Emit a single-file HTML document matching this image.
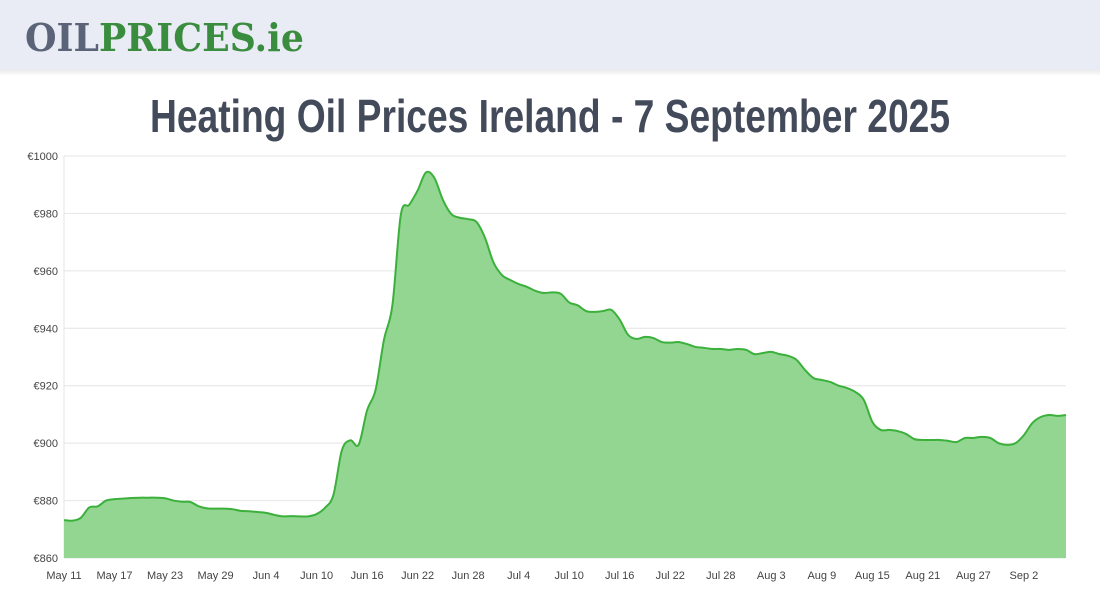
<!DOCTYPE html>
<html><head><meta charset="utf-8"><style>
html,body{margin:0;padding:0;background:#fff;width:1100px;height:600px;overflow:hidden}
svg{display:block}
</style></head><body>
<svg id="s" width="1100" height="600" xmlns="http://www.w3.org/2000/svg">
<defs><linearGradient id="sh" x1="0" y1="0" x2="0" y2="1"><stop offset="0" stop-color="#000" stop-opacity="0.08"/><stop offset="1" stop-color="#000" stop-opacity="0"/></linearGradient></defs>
<rect x="0" y="0" width="1100" height="70" fill="#e9ecf4"/>
<rect x="0" y="70" width="1100" height="6" fill="url(#sh)"/>
<text x="25" y="51" font-family="DejaVu Serif, Liberation Serif, serif" font-weight="bold" font-size="38" textLength="279" lengthAdjust="spacingAndGlyphs"><tspan fill="#5a6378">OIL</tspan><tspan fill="#3a8c3e">PRICES.ie</tspan></text>
<text x="550" y="132" text-anchor="middle" font-family="Liberation Sans, sans-serif" font-weight="bold" font-size="46" fill="#434a5a" textLength="800" lengthAdjust="spacingAndGlyphs">Heating Oil Prices Ireland - 7 September 2025</text>
<g id="grid"></g><g id="plot"></g><g id="ax"></g>
</svg>
<script>
const startDate = "May 11";
const xTickLabels = ["May 11","May 17","May 23","May 29","Jun 4","Jun 10","Jun 16","Jun 22","Jun 28","Jul 4","Jul 10","Jul 16","Jul 22","Jul 28","Aug 3","Aug 9","Aug 15","Aug 21","Aug 27","Sep 2"];
const yTicks = [860,880,900,920,940,960,980,1000];
const prices = [873.2,873,874,877.6,878,880,880.5,880.7,880.9,881,881,881,880.8,880,879.6,879.5,878,877.3,877.2,877.2,877,876.4,876.3,876,875.7,875,874.5,874.6,874.5,874.5,875.3,877.5,882,897.5,901,899.5,911.5,918.5,936,948,979.5,983,988,994.3,992.3,984.7,979.8,978.5,978,977,971.5,963,958.6,956.8,955.4,954.4,953,952.3,952.5,952,949,948,946,945.7,946,946.4,943,937.7,936.3,937,936.6,935.2,935,935.2,934.5,933.5,933.2,932.8,932.8,932.5,932.8,932.5,931,931.4,931.8,931,930.4,929,925.5,922.7,922,921.3,920,919.2,917.8,915,907.4,904.6,904.6,904.2,903.2,901.4,901.1,901.1,901.1,900.8,900.4,901.8,901.8,902.2,901.8,900,899.4,900,902.8,907,909.1,909.8,909.5,909.8];
const NS='http://www.w3.org/2000/svg';
const X0=64,X1=1066,Y0=558,Y1=156,tickEvery=6;
const x=i=>X0+(X1-X0)*i/(prices.length-1);
const y=v=>Y0-(v-yTicks[0])/(yTicks[yTicks.length-1]-yTicks[0])*(Y0-Y1);
function mk(t,a,p){const e=document.createElementNS(NS,t);for(const k in a)e.setAttribute(k,a[k]);p.appendChild(e);return e;}
const grid=document.getElementById('grid'),plot=document.getElementById('plot'),ax=document.getElementById('ax');
yTicks.forEach(v=>{
 const l=mk('line',{x1:X0,x2:X1,y1:y(v),y2:y(v),stroke:'#e4e4e4','stroke-width':1},grid);
 
 
 const t=mk('text',{x:58,y:y(v)+4,'text-anchor':'end','font-family':'Liberation Sans, sans-serif','font-size':11,fill:'#444'},ax);
 t.textContent='€'+v;
 
 
});
const vl=mk('line',{x1:X0,x2:X0,y1:Y1,y2:Y0,stroke:'#e4e4e4'},grid);


xTickLabels.forEach((s,k)=>{
 const t=mk('text',{x:x(k*tickEvery),y:579,'text-anchor':'middle','font-family':'Liberation Sans, sans-serif','font-size':11,fill:'#444'},ax);
 t.textContent=s;
 
 
});
const pts=prices.map((v,i)=>[x(i),y(v)]);
let d='M'+pts[0][0]+','+pts[0][1];
for(let i=0;i<pts.length-1;i++){
 const p0=pts[Math.max(0,i-1)],p1=pts[i],p2=pts[i+1],p3=pts[Math.min(pts.length-1,i+2)];
 const c1=[p1[0]+(p2[0]-p0[0])/6,p1[1]+(p2[1]-p0[1])/6],c2=[p2[0]-(p3[0]-p1[0])/6,p2[1]-(p3[1]-p1[1])/6];
 d+=`C${c1[0]},${c1[1]} ${c2[0]},${c2[1]} ${p2[0]},${p2[1]}`;
}
const area=mk('path',{d:d+`L${X1},${Y0}L${X0},${Y0}Z`,fill:'#92d692'},plot);


const line=mk('path',{d:d,fill:'none',stroke:'#3bb03b','stroke-width':2},plot);


</script>
</body></html>
